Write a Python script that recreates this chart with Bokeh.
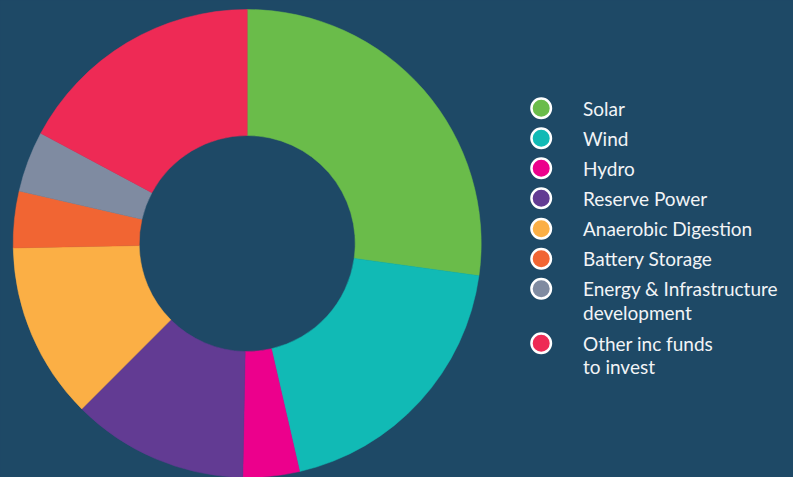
import math
from bokeh.plotting import figure
from bokeh.models import Range1d, ColumnDataSource
from bokeh.core.properties import value
from bokeh.embed import file_html
from bokeh.resources import INLINE

# ---- data ----
categories = ["Solar", "Wind", "Hydro", "Reserve Power", "Anaerobic Digestion",
              "Battery Storage", "Energy & Infrastructure\ndevelopment",
              "Other inc funds\nto invest"]
shares = [27.2, 19.2, 3.9, 12.2, 12.2, 3.9, 4.2, 17.2]
colors = ["#6ABC4A", "#11BAB5", "#EC008C", "#623B93", "#FBAF45",
          "#F16533", "#7F8BA1", "#EE2A55"]

BG = "#1E4966"
W, H = 793, 477

p = figure(width=W, height=H, output_backend="svg", toolbar_location=None,
           x_range=Range1d(0, W), y_range=Range1d(0, H),
           min_border=0, background_fill_color=BG, border_fill_color=BG,
           outline_line_color=None)
p.axis.visible = False
p.grid.visible = False

def py(y):
    # page y (down) -> data y (up)
    return H - y

# wedges clockwise from 12 o'clock
total = sum(shares)
starts, ends = [], []
acc = 0.0
for s in shares:
    a0 = acc / total * 2 * math.pi
    acc += s
    a1 = acc / total * 2 * math.pi
    starts.append(math.pi / 2 - a0)
    ends.append(math.pi / 2 - a1)

src = ColumnDataSource(dict(start=starts, end=ends, color=colors))
cx, cy = 246.7, 243.0
p.annular_wedge(x=cx, y=py(cy), inner_radius=108, outer_radius=234,
                start_angle="start", end_angle="end", direction="clock",
                fill_color="color", line_color="color", line_width=0.5,
                source=src)

# ---- legend ----
leg_y = [107.7, 137.7, 167.7, 197.7, 228.3, 258.3, 288.3, 342.7]
mx, tx = 540.7, 582.5
p.scatter(x=[mx] * len(leg_y), y=[py(y) for y in leg_y], size=19.5,
          fill_color=colors, line_color="white", line_width=2.5)
for label, y in zip(categories, leg_y):
    for i, line in enumerate(label.split("\n")):
        p.text(x=[tx], y=[py(y + i * 23.5)], text=[line],
               text_font=value("Lato"), text_font_size="19px",
               text_color="#F2F4F6", text_baseline="middle", text_align="left")

html = file_html(p, INLINE)
html = html.replace("<head>", "<head><style>body{background:%s;}</style>" % BG, 1)
open("out.html", "w").write(html)
